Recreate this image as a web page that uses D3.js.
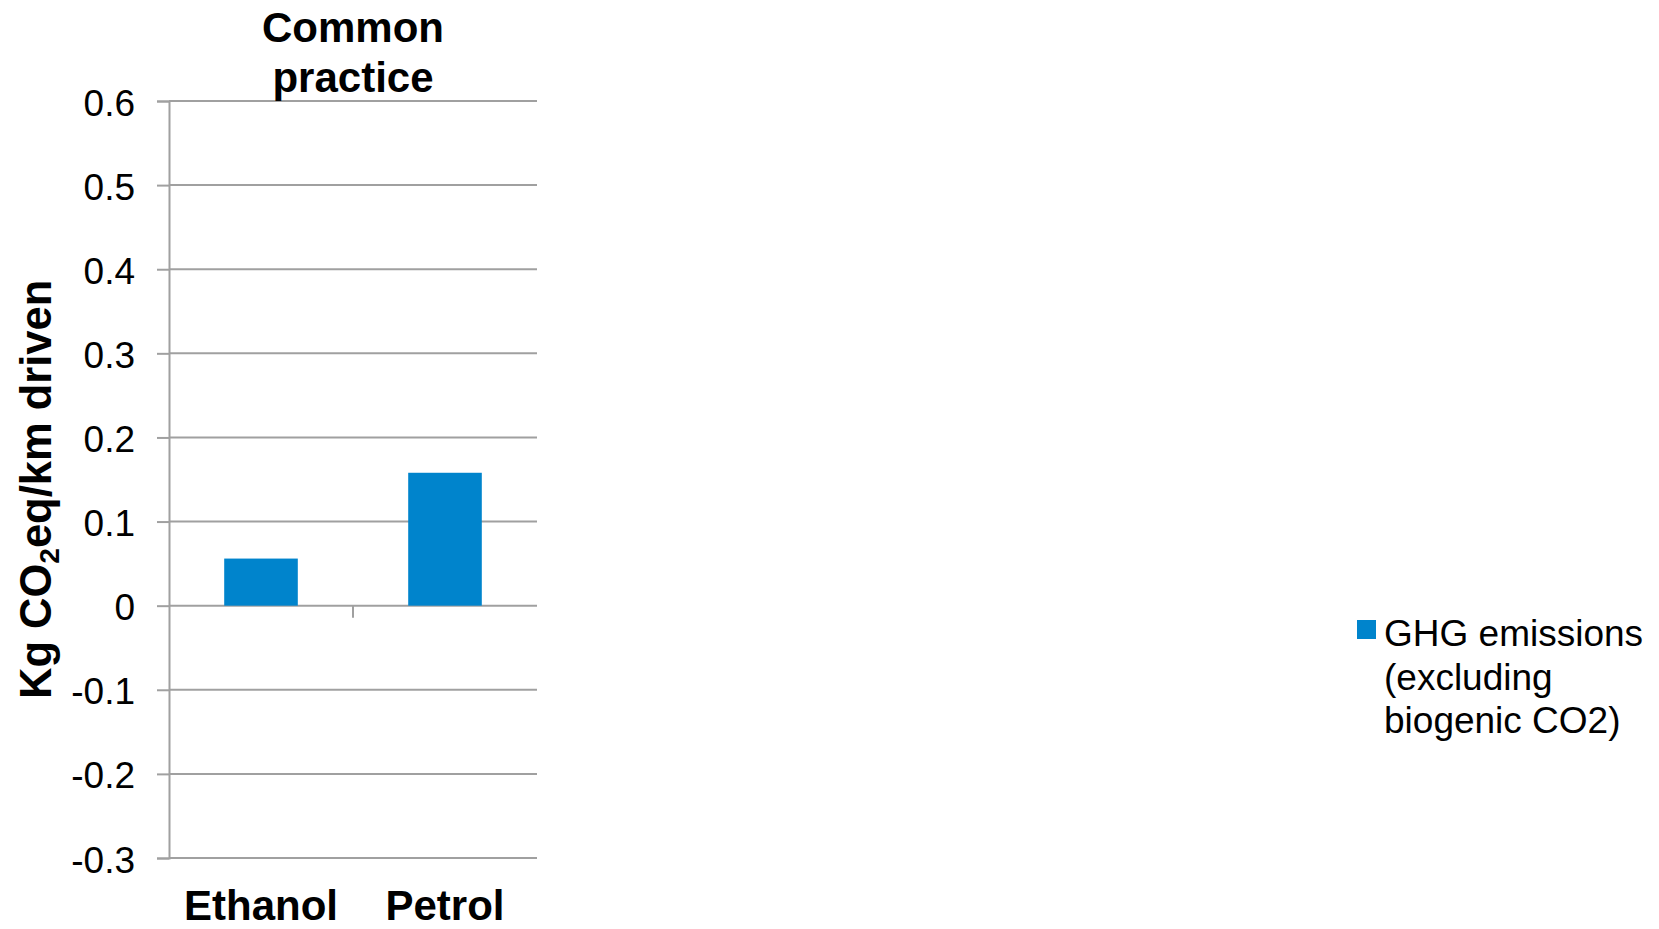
<!DOCTYPE html>
<html>
<head>
<meta charset="utf-8">
<script src="https://cdn.jsdelivr.net/npm/d3@7"></script>
<style>
  body { margin: 0; background: #fff; }
  text { font-family: "Liberation Sans", Arial, sans-serif; fill: #000; }
</style>
</head>
<body>
<svg id="chart" width="1659" height="929"></svg>
<script>
const categories = ["Ethanol", "Petrol"];
const ghgValues = [0.056, 0.158];
const yTicks = [-0.3, -0.2, -0.1, 0, 0.1, 0.2, 0.3, 0.4, 0.5, 0.6];
const titleLines = ["Common", "practice"];
const legendLines = ["GHG emissions", "(excluding", "biogenic CO2)"];

const svg = d3.select("#chart");
const plot = { left: 169, right: 537, top: 101, bottom: 858 };
const barColor = "#0084CC";
const gridColor = "#A0A0A0";

const x = d3.scaleBand()
  .domain(categories)
  .range([plot.left, plot.right])
  .paddingInner(0.6)
  .paddingOuter(0.3);

const y = d3.scaleLinear()
  .domain([-0.3, 0.6])
  .range([plot.bottom, plot.top]);

const fmt = v => v === 0 ? "0" : d3.format(".1f")(v).replace("\u2212", "-");

// gridlines
svg.append("g")
  .selectAll("line")
  .data(yTicks)
  .join("line")
  .attr("x1", plot.left).attr("x2", plot.right)
  .attr("y1", d => y(d)).attr("y2", d => y(d))
  .attr("stroke", gridColor)
  .attr("stroke-width", 2);

// y axis
const yAxis = svg.append("g")
  .attr("transform", `translate(${plot.left},0)`)
  .call(d3.axisLeft(y).tickValues(yTicks).tickFormat(fmt).tickSize(12).tickPadding(22));
yAxis.select(".domain").attr("stroke", gridColor).attr("stroke-width", 2);
yAxis.selectAll(".tick line").attr("stroke", gridColor).attr("stroke-width", 2);
yAxis.selectAll(".tick text")
  .attr("dy", "0.38em")
  .style("font-family", '"Liberation Sans", Arial, sans-serif')
  .style("font-size", "37px")
  .attr("fill", "#000");

// bars
svg.append("g")
  .selectAll("rect")
  .data(ghgValues)
  .join("rect")
  .attr("x", (d, i) => x(categories[i]))
  .attr("width", x.bandwidth())
  .attr("y", d => y(Math.max(0, d)))
  .attr("height", d => Math.abs(y(d) - y(0)))
  .attr("fill", barColor);

// category axis at zero: tick between categories
const midX = x(categories[1]) - x.step() * x.paddingInner() / 2;
svg.append("line")
  .attr("x1", midX).attr("x2", midX)
  .attr("y1", y(0)).attr("y2", y(0) + 12)
  .attr("stroke", gridColor)
  .attr("stroke-width", 2);

// category labels
svg.append("g")
  .selectAll("text")
  .data(categories)
  .join("text")
  .attr("x", d => x(d) + x.bandwidth() / 2)
  .attr("y", 920)
  .attr("text-anchor", "middle")
  .style("font-size", "42px")
  .style("font-weight", "bold")
  .text(d => d);

// title
svg.append("g")
  .selectAll("text")
  .data(titleLines)
  .join("text")
  .attr("x", (plot.left + plot.right) / 2)
  .attr("y", (d, i) => 42 + i * 50)
  .attr("text-anchor", "middle")
  .style("font-size", "42px")
  .style("font-weight", "bold")
  .text(d => d);

// y axis title with subscript
const yt = svg.append("text")
  .attr("transform", "translate(51,699) rotate(-90)")
  .attr("text-anchor", "start")
  .style("font-size", "43.5px")
  .style("font-weight", "bold");
yt.append("tspan").text("Kg CO");
yt.append("tspan").attr("dy", 8).style("font-size", "28px").text("2");
yt.append("tspan").attr("dy", -8).text("eq/km driven");

// legend
const legend = svg.append("g");
legend.append("rect")
  .attr("x", 1357).attr("y", 620)
  .attr("width", 19).attr("height", 19)
  .attr("fill", barColor);
legend.selectAll("text.leg")
  .data(legendLines)
  .join("text")
  .attr("class", "leg")
  .attr("x", 1384)
  .attr("y", (d, i) => 646 + i * 43.5)
  .style("font-size", "37px")
  .text(d => d);
</script>
</body>
</html>
